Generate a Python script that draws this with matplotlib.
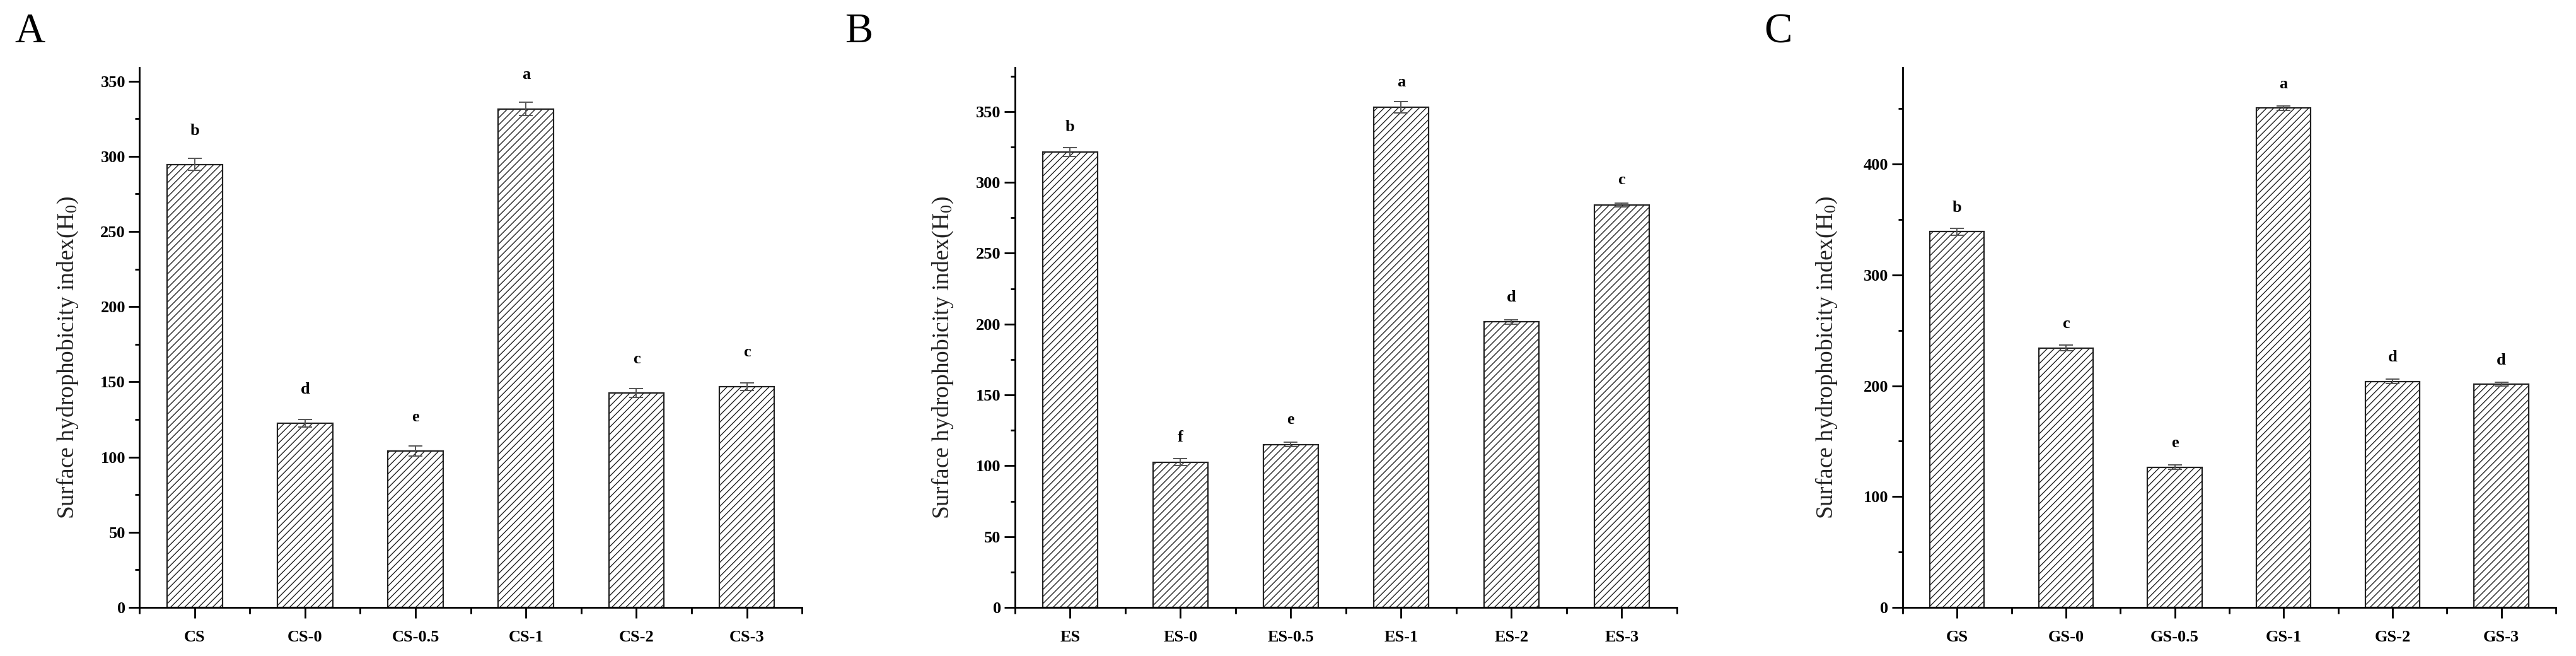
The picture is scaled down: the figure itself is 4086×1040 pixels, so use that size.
import matplotlib
matplotlib.use('Agg')
import matplotlib.pyplot as plt
from matplotlib.ticker import MultipleLocator, FixedLocator
import numpy as np

plt.rcParams['font.family'] = ['Liberation Serif', 'DejaVu Serif']
plt.rcParams['mathtext.fontset'] = 'custom'
plt.rcParams['mathtext.rm'] = 'Liberation Serif'
plt.rcParams['mathtext.it'] = 'Liberation Serif:italic'
plt.rcParams['hatch.linewidth'] = 1.0

# ---- data ----
cats_a = ['CS', 'CS-0', 'CS-0.5', 'CS-1', 'CS-2', 'CS-3']
vals_a = [294.5, 122.5, 104.0, 331.5, 142.5, 147.0]
errs_a = [4.0, 2.5, 3.5, 4.5, 3.0, 2.5]
sig_a = ['b', 'd', 'e', 'a', 'c', 'c']

cats_b = ['ES', 'ES-0', 'ES-0.5', 'ES-1', 'ES-2', 'ES-3']
vals_b = [321.5, 102.5, 115.0, 353.0, 201.5, 284.0]
errs_b = [3.0, 2.5, 1.5, 4.0, 1.5, 1.5]
sig_b = ['b', 'f', 'e', 'a', 'd', 'c']

cats_c = ['GS', 'GS-0', 'GS-0.5', 'GS-1', 'GS-2', 'GS-3']
vals_c = [339.0, 234.0, 126.5, 450.5, 204.0, 201.5]
errs_c = [3.0, 2.5, 2.0, 2.0, 2.0, 1.5]
sig_c = ['b', 'c', 'e', 'a', 'd', 'd']

panels = [
    dict(cats=cats_a, vals=vals_a, errs=errs_a, sig=sig_a, letter='A',
         rect=[0.0541, 0.074, 0.2572, 0.823], ylim=359, major=50, off=22.6,
         lab_x=0.0262, let_x=0.0115),
    dict(cats=cats_b, vals=vals_b, errs=errs_b, sig=sig_b, letter='B',
         rect=[0.3939, 0.074, 0.2569, 0.823], ylim=381, major=50, off=17.5,
         lab_x=0.3658, let_x=0.3333),
    dict(cats=cats_c, vals=vals_c, errs=errs_c, sig=sig_c, letter='C',
         rect=[0.7384, 0.074, 0.2535, 0.823], ylim=487, major=100, off=21.5,
         lab_x=0.7090, let_x=0.6900),
]

fig = plt.figure(figsize=(40.87, 10.40), dpi=100)

for p in panels:
    ax = fig.add_axes(p['rect'])
    x = np.arange(len(p['cats']))
    bars = ax.bar(x, p['vals'], width=0.5, color='white', edgecolor='#222222',
                  linewidth=1.6, hatch='///', zorder=2)
    ax.errorbar(x, p['vals'], yerr=p['errs'], fmt='none', ecolor='#555555',
                elinewidth=1.4, capsize=8, capthick=1.4, zorder=3)
    for xi, v, e, s in zip(x, p['vals'], p['errs'], p['sig']):
        ax.text(xi, v + p['off'], s, ha='center', va='center',
                fontsize=19, fontweight='bold')
    ax.set_xlim(-0.5, len(x) - 0.5)
    ax.set_ylim(0, p['ylim'])
    ax.set_xticks(x)
    ax.set_xticklabels(p['cats'], fontsize=19, fontweight='bold')
    ax.xaxis.set_minor_locator(FixedLocator(np.arange(-0.5, len(x), 1.0)))
    ax.yaxis.set_major_locator(MultipleLocator(p['major']))
    ax.yaxis.set_minor_locator(MultipleLocator(p['major'] / 2))
    for lbl in ax.get_yticklabels():
        lbl.set_fontsize(19)
        lbl.set_fontweight('bold')
    ax.spines['top'].set_visible(False)
    ax.spines['right'].set_visible(False)
    ax.spines['left'].set_linewidth(2.0)
    ax.spines['bottom'].set_linewidth(2.0)
    ax.tick_params(axis='y', which='major', direction='out', length=12, width=2, pad=4)
    ax.tick_params(axis='y', which='minor', direction='out', length=5, width=2)
    ax.tick_params(axis='x', which='major', direction='out', length=12, width=2, pad=14)
    ax.tick_params(axis='x', which='minor', direction='out', length=7, width=2)
    fig.text(p['lab_x'], 0.455, r'Surface hydrophobicity index(H$_\mathrm{0}$)',
             rotation=90, ha='center', va='center', fontsize=27, color='#222222')
    fig.text(p['let_x'], 0.951, p['letter'], ha='center', va='center', fontsize=48)

fig.savefig('out.png', dpi=100, facecolor='white')
